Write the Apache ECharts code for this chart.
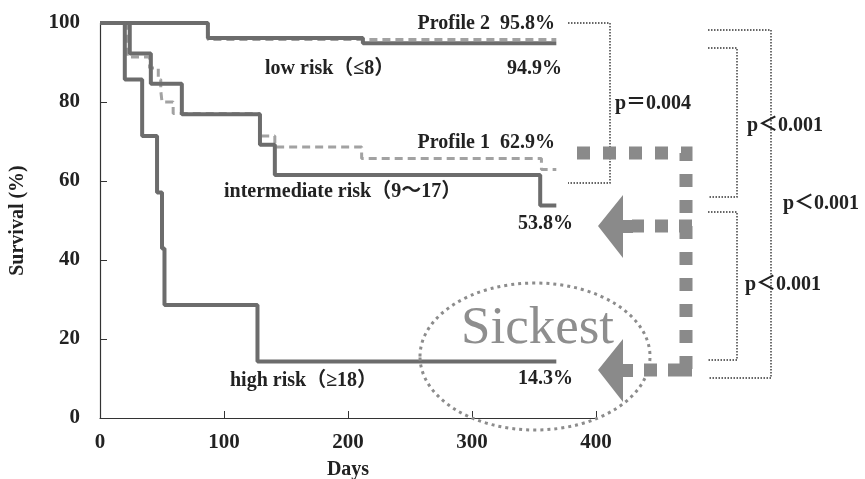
<!DOCTYPE html>
<html>
<head>
<meta charset="utf-8">
<script src="https://cdn.jsdelivr.net/npm/echarts@6/dist/echarts.min.js"></script>
<style>
  html, body { margin: 0; padding: 0; background: #fff; }
  #chart { width: 865px; height: 479px; }
</style>
</head>
<body>
<div id="chart"></div>
<script>
// Axis ticks
const xTicks = [0, 100, 200, 300, 400];
const yTicks = [0, 20, 40, 60, 80, 100];

// Kaplan–Meier curves: day of each event and survival (%) after it
const lowRiskDays   = [0, 87, 212, 368];
const lowRiskSurv   = [100, 96.2, 94.9, 94.9];
const profile2Days  = [0, 87, 368];
const profile2Surv  = [100, 95.8, 95.8];
const interRiskDays = [0, 24, 41, 66, 129, 141, 355, 368];
const interRiskSurv = [100, 92.3, 84.6, 76.9, 69.2, 61.5, 53.8, 53.8];
const profile1Days  = [0, 22, 40, 47, 49, 50, 59, 129, 141, 211, 356, 368];
const profile1Surv  = [100, 91.4, 88.6, 85.7, 82.9, 80.0, 77.1, 71.4, 68.6, 65.7, 62.9, 62.9];
const highRiskDays  = [0, 20, 34, 46, 50, 52, 127, 368];
const highRiskSurv  = [100, 85.7, 71.4, 57.1, 42.9, 28.6, 14.3, 14.3];

const SERIF = '"Liberation Serif", "Noto Sans CJK JP", serif';
const LABEL_FONT = 'bold 20px ' + SERIF;

function kmSeries(name, days, surv, dashed) {
  return {
    name: name,
    type: 'line',
    step: 'end',
    symbol: 'none',
    silent: true,
    z: dashed ? 2 : 3,
    data: days.map((d, i) => [d, surv[i]]),
    lineStyle: dashed
      ? { color: '#a2a2a2', width: 3, type: [8, 5] }
      : { color: '#6c6c6c', width: 4 }
  };
}

function txt(text, x, y, align, font, fill) {
  return {
    type: 'text', silent: true, z: 10,
    style: {
      text: text, x: x, y: y,
      font: font || LABEL_FONT,
      fill: fill || '#222',
      textAlign: align || 'left', align: align || 'left',
      textVerticalAlign: 'middle', verticalAlign: 'middle'
    }
  };
}

function dotted(points) {
  return {
    type: 'polyline', silent: true, z: 5,
    shape: { points: points },
    style: { stroke: '#333', lineWidth: 1.4, lineDash: [1.5, 1.5], fill: 'none' }
  };
}

function squares(points, dash) {
  return {
    type: 'polyline', silent: true, z: 6,
    shape: { points: points },
    style: { stroke: '#8a8a8a', lineWidth: 13, lineDash: dash || [13, 13], lineCap: 'butt', lineJoin: 'miter', fill: 'none' }
  };
}

function arrow(tipX, y) {
  return {
    type: 'polygon', silent: true, z: 6,
    shape: { points: [
      [tipX, y], [tipX + 25, y - 31], [tipX + 25, y - 6], [tipX + 35, y - 6],
      [tipX + 35, y + 7], [tipX + 25, y + 7], [tipX + 25, y + 32]
    ] },
    style: { fill: '#8a8a8a' }
  };
}

const chart = echarts.init(document.getElementById('chart'), null, { renderer: 'canvas' });

const axisText = { fontFamily: SERIF, fontWeight: 'bold', fontSize: 21, color: '#222' };

chart.setOption({
  animation: false,
  backgroundColor: '#fff',
  grid: { left: 100, right: 269, top: 23, bottom: 61, containLabel: false, outerBoundsMode: 'none' },
  xAxis: {
    type: 'value', min: xTicks[0], max: xTicks[xTicks.length - 1], interval: 100,
    name: 'Days', nameLocation: 'middle', nameGap: 42,
    nameTextStyle: { fontFamily: SERIF, fontWeight: 'bold', fontSize: 20, color: '#222' },
    axisLine: { show: true, lineStyle: { color: '#333', width: 1.2 } },
    axisTick: { show: true, inside: true, length: 7, lineStyle: { color: '#333', width: 1 } },
    axisLabel: Object.assign({ margin: 14 }, axisText),
    splitLine: { show: false }
  },
  yAxis: {
    type: 'value', min: yTicks[0], max: yTicks[yTicks.length - 1], interval: 20,
    name: 'Survival (%)', nameLocation: 'middle', nameGap: 72, nameRotate: 90,
    nameTextStyle: { fontFamily: SERIF, fontWeight: 'bold', fontSize: 20, color: '#222' },
    axisLine: { show: true, lineStyle: { color: '#333', width: 1.2 } },
    axisTick: { show: true, inside: true, length: 7, lineStyle: { color: '#333', width: 1 } },
    axisLabel: Object.assign({ margin: 20 }, axisText),
    splitLine: { show: false }
  },
  series: [
    kmSeries('Profile 2', profile2Days, profile2Surv, true),
    kmSeries('Profile 1', profile1Days, profile1Surv, true),
    kmSeries('low risk', lowRiskDays, lowRiskSurv, false),
    kmSeries('intermediate risk', interRiskDays, interRiskSurv, false),
    kmSeries('high risk', highRiskDays, highRiskSurv, false)
  ],
  graphic: [
    // curve labels
    txt('Profile 2  95.8%', 555, 23.5, 'right'),
    txt('low risk（≤8）', 265, 69, 'left'),
    txt('94.9%', 562, 69, 'right'),
    txt('Profile 1  62.9%', 555, 143, 'right'),
    txt('intermediate risk（9〜17）', 224, 192, 'left'),
    txt('53.8%', 573, 224, 'right'),
    txt('high risk（≥18）', 230, 381, 'left'),
    txt('14.3%', 573, 379, 'right'),

    // "Sickest" callout
    {
      type: 'ellipse', silent: true, z: 4,
      shape: { cx: 535, cy: 356.5, rx: 115, ry: 73.5 },
      style: { fill: 'none', stroke: '#8c8c8c', lineWidth: 3, lineDash: [3, 4] }
    },
    {
      type: 'text', silent: true, z: 7,
      style: { text: 'Sickest', x: 461, y: 356, font: '53px ' + SERIF, fill: '#8e8e8e',
               textAlign: 'left', align: 'left', textVerticalAlign: 'bottom', verticalAlign: 'bottom' }
    },

    // comparison brackets
    dotted([[568, 23], [610, 23], [610, 183], [568, 183]]),
    dotted([[708, 48], [737, 48], [737, 197], [708, 197]]),
    dotted([[708, 212], [737, 212], [737, 360], [708, 360]]),
    dotted([[708, 30], [771, 30], [771, 378], [708, 378]]),
    txt('p＝0.004', 615, 103.5, 'left'),
    txt('p＜0.001', 747, 126, 'left'),
    txt('p＜0.001', 783, 204, 'left'),
    txt('p＜0.001', 745, 285, 'left'),

    // pointer path and arrows
    squares([[577, 153], [686, 153], [686, 377]]),
    squares([[692, 226], [632, 226]], [13, 11]),
    squares([[692, 370], [632, 370]], [24, 11, 13, 20]),
    arrow(598, 226),
    arrow(598, 370)
  ]
});
</script>
</body>
</html>
